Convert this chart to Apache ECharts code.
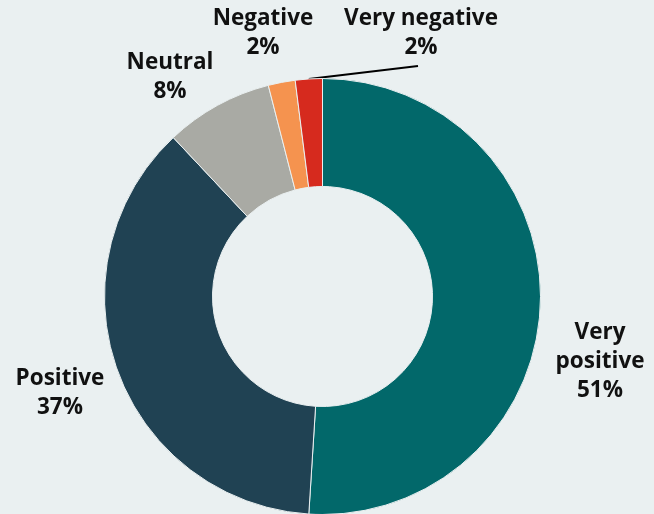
<!DOCTYPE html>
<html>
<head>
<meta charset="utf-8">
<script src="https://cdn.jsdelivr.net/npm/echarts@6/dist/echarts.min.js"></script>
<style>
html,body{margin:0;padding:0;background:#eaf0f1;}
#c{width:654px;height:514px;}
</style>
</head>
<body>
<div id="c"></div>
<script>
const categories = ['Very positive', 'Positive', 'Neutral', 'Negative', 'Very negative'];
const values = [51, 37, 8, 2, 2];
const labelTexts = ['Very\npositive\n51%', 'Positive\n37%', 'Neutral\n8%', 'Negative\n2%', 'Very negative\n2%'];
const colors = ['#02686a', '#204253', '#a9aaa4', '#f5934f', '#d62a1e'];

const labelPos = [[600, 362], [60, 393], [170, 77], [263, 33], [421, 33]];

const chart = echarts.init(document.getElementById('c'), null, {renderer: 'canvas'});
chart.setOption({
  backgroundColor: '#eaf0f1',
  animation: false,
  series: [{
    type: 'pie',
    center: [322.5, 296.5],
    radius: [110, 218],
    startAngle: 90,
    clockwise: true,
    avoidLabelOverlap: false,
    itemStyle: {borderColor: '#eaf0f1', borderWidth: 1},
    label: {
      show: true,
      position: 'outside',
      formatter: p => labelTexts[p.dataIndex],
      fontFamily: 'Open Sans',
      fontWeight: 'bold',
      fontSize: 22.5,
      lineHeight: 29,
      color: '#111',
      align: 'center'
    },
    labelLine: {show: false},
    labelLayout: function (params) {
      const i = params.dataIndex;
      const r = {x: labelPos[i][0], y: labelPos[i][1], align: 'center', verticalAlign: 'middle'};
      if (i === 4 && params.labelLinePoints) {
        r.labelLinePoints = [params.labelLinePoints[0], [418, 66], [418, 66]];
      }
      return r;
    },
    data: categories.map((c, i) => ({
      name: c,
      value: values[i],
      itemStyle: {color: colors[i]},
      labelLine: i === 4 ? {show: true, lineStyle: {color: '#000', width: 2}} : {show: false}
    }))
  }]
});
</script>
</body>
</html>
